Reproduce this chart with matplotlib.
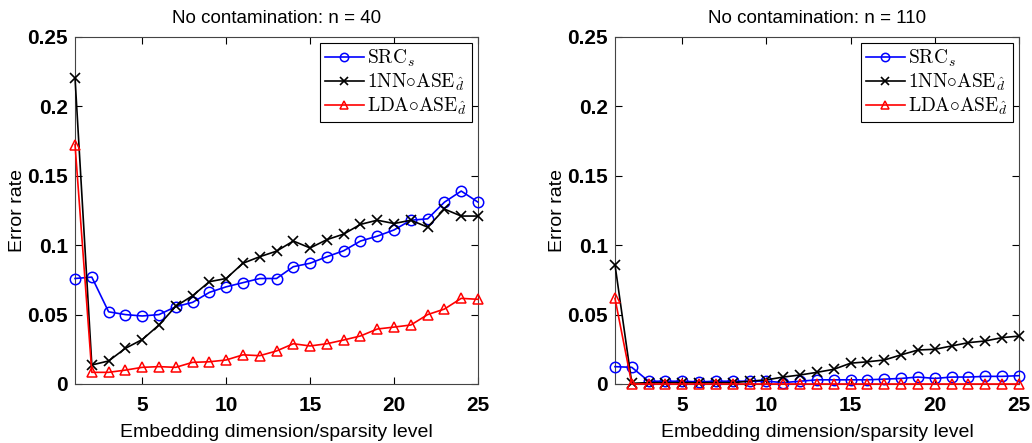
import matplotlib
matplotlib.use("Agg")
import matplotlib.pyplot as plt

plt.rcParams['font.family'] = ['Liberation Sans', 'DejaVu Sans']
plt.rcParams['mathtext.fontset'] = 'cm'

dims = list(range(1, 26))

# n = 40
src_40 = [0.076, 0.077, 0.052, 0.050, 0.049, 0.050, 0.0557, 0.0588, 0.066, 0.070,
          0.073, 0.076, 0.076, 0.0845, 0.087, 0.0917, 0.096, 0.103, 0.1065, 0.111,
          0.118, 0.119, 0.131, 0.139, 0.131]
nn_40 = [0.2205, 0.0137, 0.0166, 0.0257, 0.032, 0.0425, 0.056, 0.0636, 0.0737, 0.076,
         0.087, 0.0917, 0.0957, 0.103, 0.098, 0.104, 0.108, 0.115, 0.118, 0.1156,
         0.118, 0.113, 0.126, 0.121, 0.121]
lda_40 = [0.1725, 0.0084, 0.0084, 0.010, 0.012, 0.0125, 0.012, 0.0156, 0.016, 0.0173,
          0.021, 0.0204, 0.0238, 0.029, 0.0274, 0.029, 0.0317, 0.0346, 0.0396, 0.041,
          0.0425, 0.050, 0.054, 0.0617, 0.061]

# n = 110
src_110 = [0.0125, 0.012, 0.002, 0.002, 0.002, 0.0015, 0.002, 0.002, 0.002, 0.002,
           0.001, 0.002, 0.003, 0.003, 0.003, 0.003, 0.0035, 0.004, 0.005, 0.004,
           0.005, 0.005, 0.0055, 0.0055, 0.006]
nn_110 = [0.086, 0.0005, 0.001, 0.001, 0.001, 0.001, 0.001, 0.001, 0.002, 0.003,
          0.005, 0.0065, 0.0084, 0.0106, 0.015, 0.016, 0.0173, 0.021, 0.0245, 0.025,
          0.0274, 0.0298, 0.031, 0.0334, 0.0345]
lda_110 = [0.0617, 0.0, 0.0, 0.0, 0.0, 0.0, 0.0, 0.0, 0.0, 0.0,
           0.0, 0.0, 0.0, 0.0, 0.0, 0.0, 0.0, 0.0, 0.0, 0.0,
           0.0, 0.0, 0.0, 0.0, 0.0]

labels = [r'$\mathrm{SRC}_s$', r'$\mathrm{1NN}{\circ}\mathrm{ASE}_{\hat{d}}$',
          r'$\mathrm{LDA}{\circ}\mathrm{ASE}_{\hat{d}}$']
titles = ['No contamination: n = 40', 'No contamination: n = 110']
yticks = [0, 0.05, 0.1, 0.15, 0.2, 0.25]
yticklabels = ['0', '0.05', '0.1', '0.15', '0.2', '0.25']
xticks = [5, 10, 15, 20, 25]

fig = plt.figure(figsize=(10.32, 4.43), dpi=100)
ax1 = fig.add_axes([0.0727, 0.1332, 0.3905, 0.7833])
ax2 = fig.add_axes([0.5959, 0.1332, 0.3915, 0.7833])

for ax, data, title in [(ax1, (src_40, nn_40, lda_40), titles[0]),
                        (ax2, (src_110, nn_110, lda_110), titles[1])]:
    ax.plot(dims, data[0], 'o-', color='blue', mfc='none', ms=7.5, lw=1.2, mew=1.1,
            label=labels[0], clip_on=False, zorder=3)
    ax.plot(dims, data[1], 'x-', color='black', ms=6.5, lw=1.2, mew=1.2,
            label=labels[1], clip_on=False, zorder=3)
    ax.plot(dims, data[2], '^-', color='red', mfc='none', ms=7.5, lw=1.2, mew=1.1,
            label=labels[2], clip_on=False, zorder=3)
    ax.set_xlim(1, 25)
    ax.set_ylim(0, 0.25)
    ax.set_xticks(xticks)
    ax.set_yticks(yticks)
    ax.set_yticklabels(yticklabels)
    ax.tick_params(direction='in', top=True, right=True, labelsize=15, length=5, width=0.8)
    ax.tick_params(axis='x', pad=9)
    ax.tick_params(axis='y', pad=5)
    for t in ax.get_xticklabels() + ax.get_yticklabels():
        t.set_fontweight('bold')
    ax.set_title(title, fontsize=13.5, pad=10)
    ax.set_ylabel('Error rate', fontsize=14, labelpad=1)
    ax.set_xlabel('Embedding dimension/sparsity level', fontsize=14, labelpad=6)
    for s in ax.spines.values():
        s.set_linewidth(0.8)
        s.set_color('#444444')
    leg = ax.legend(loc='upper right', fontsize=14, fancybox=False, framealpha=1,
                    edgecolor='black', borderpad=0.25, labelspacing=0.15,
                    handlelength=2.0, handletextpad=0.2, borderaxespad=0.3,
                    markerscale=0.8)
    leg.get_frame().set_linewidth(0.8)
    leg.set_zorder(5)

fig.savefig('out.png', dpi=100)
